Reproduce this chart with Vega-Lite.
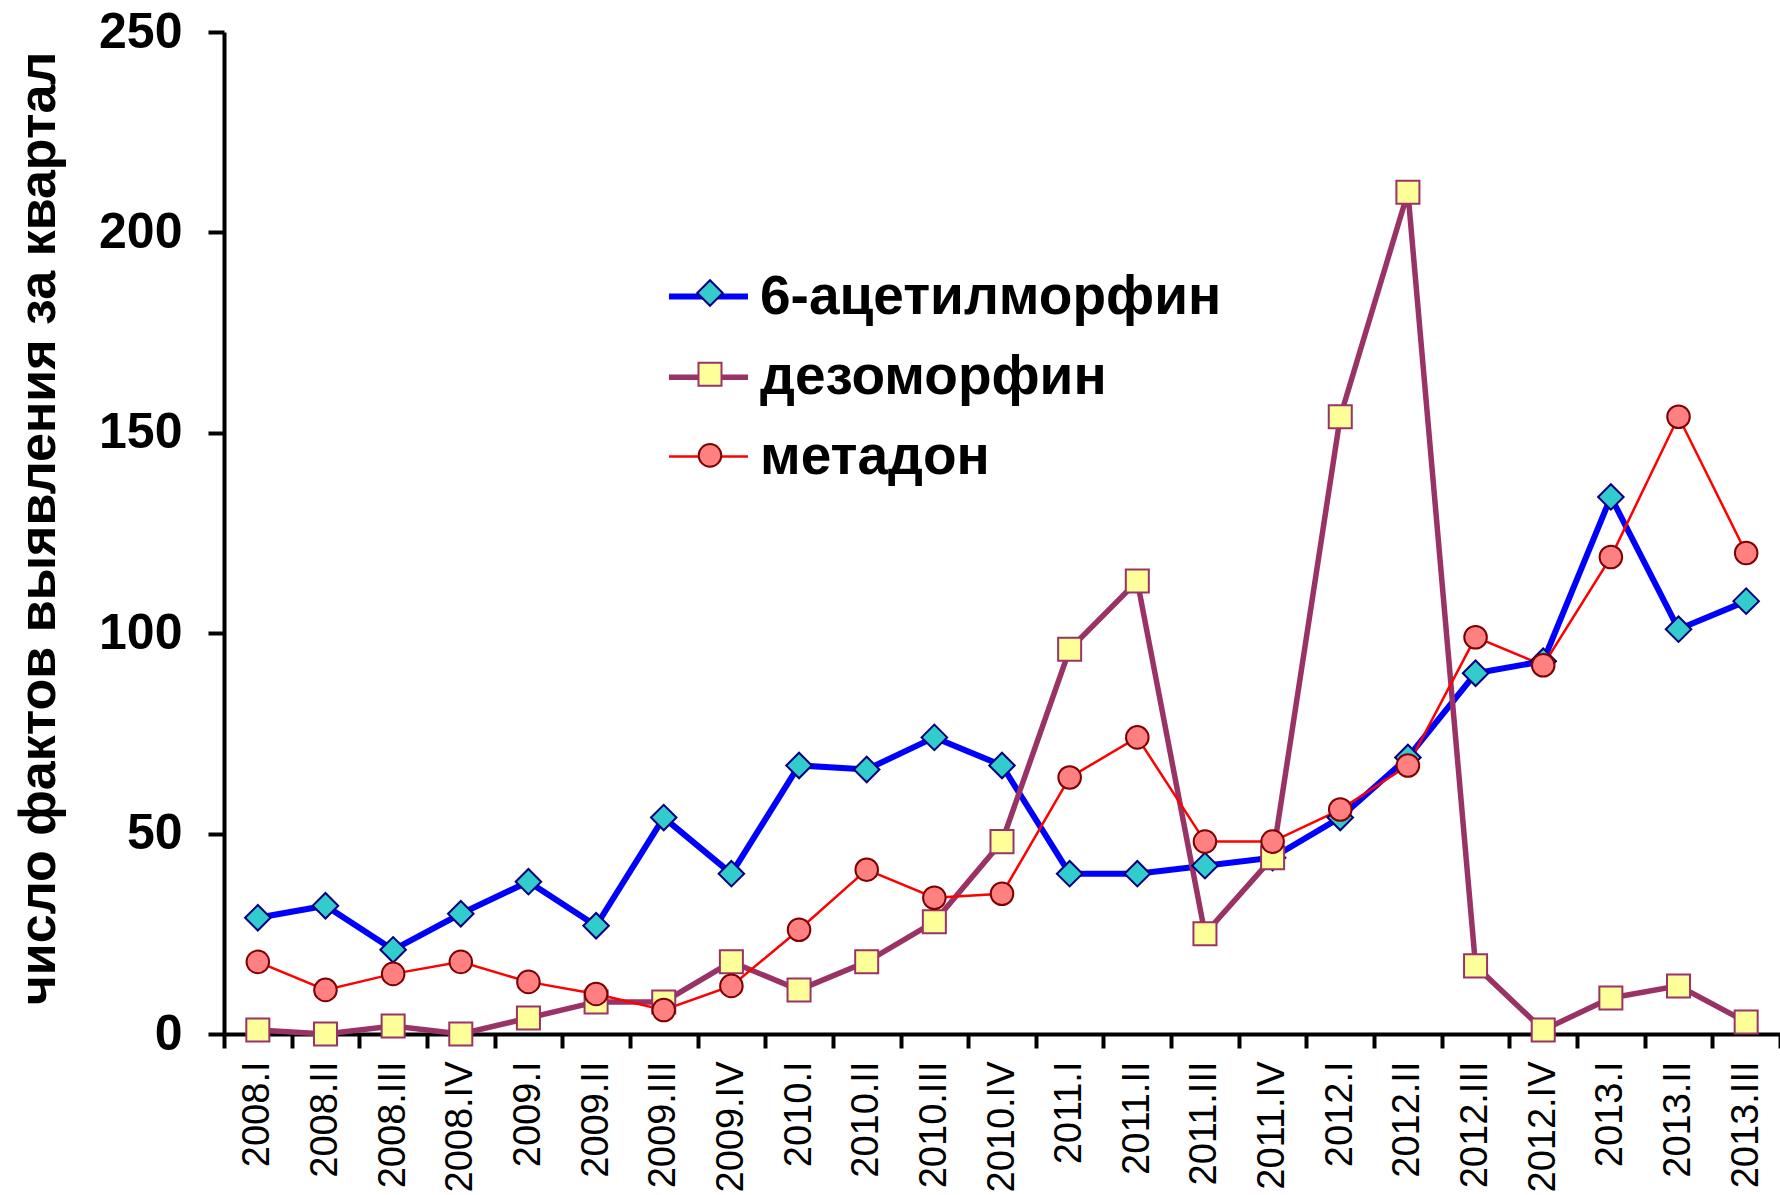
{
  "$schema": "https://vega.github.io/schema/vega-lite/v6.json",
  "width": 1556,
  "height": 1002,
  "autosize": {"type": "none"},
  "padding": {"left": 224, "top": 32, "right": 0, "bottom": 161},
  "background": "white",
  "config": {
    "view": {"stroke": null},
    "font": "Liberation Sans",
    "axis": {"grid": false, "domainColor": "black", "tickColor": "black", "labelColor": "black", "titleColor": "black"}
  },
  "data": {
    "values": [
      {"quarter": "2008.I", "series": "6-ацетилморфин", "count": 29},
      {"quarter": "2008.I", "series": "дезоморфин", "count": 1},
      {"quarter": "2008.I", "series": "метадон", "count": 18},
      {"quarter": "2008.II", "series": "6-ацетилморфин", "count": 32},
      {"quarter": "2008.II", "series": "дезоморфин", "count": 0},
      {"quarter": "2008.II", "series": "метадон", "count": 11},
      {"quarter": "2008.III", "series": "6-ацетилморфин", "count": 21},
      {"quarter": "2008.III", "series": "дезоморфин", "count": 2},
      {"quarter": "2008.III", "series": "метадон", "count": 15},
      {"quarter": "2008.IV", "series": "6-ацетилморфин", "count": 30},
      {"quarter": "2008.IV", "series": "дезоморфин", "count": 0},
      {"quarter": "2008.IV", "series": "метадон", "count": 18},
      {"quarter": "2009.I", "series": "6-ацетилморфин", "count": 38},
      {"quarter": "2009.I", "series": "дезоморфин", "count": 4},
      {"quarter": "2009.I", "series": "метадон", "count": 13},
      {"quarter": "2009.II", "series": "6-ацетилморфин", "count": 27},
      {"quarter": "2009.II", "series": "дезоморфин", "count": 8},
      {"quarter": "2009.II", "series": "метадон", "count": 10},
      {"quarter": "2009.III", "series": "6-ацетилморфин", "count": 54},
      {"quarter": "2009.III", "series": "дезоморфин", "count": 8},
      {"quarter": "2009.III", "series": "метадон", "count": 6},
      {"quarter": "2009.IV", "series": "6-ацетилморфин", "count": 40},
      {"quarter": "2009.IV", "series": "дезоморфин", "count": 18},
      {"quarter": "2009.IV", "series": "метадон", "count": 12},
      {"quarter": "2010.I", "series": "6-ацетилморфин", "count": 67},
      {"quarter": "2010.I", "series": "дезоморфин", "count": 11},
      {"quarter": "2010.I", "series": "метадон", "count": 26},
      {"quarter": "2010.II", "series": "6-ацетилморфин", "count": 66},
      {"quarter": "2010.II", "series": "дезоморфин", "count": 18},
      {"quarter": "2010.II", "series": "метадон", "count": 41},
      {"quarter": "2010.III", "series": "6-ацетилморфин", "count": 74},
      {"quarter": "2010.III", "series": "дезоморфин", "count": 28},
      {"quarter": "2010.III", "series": "метадон", "count": 34},
      {"quarter": "2010.IV", "series": "6-ацетилморфин", "count": 67},
      {"quarter": "2010.IV", "series": "дезоморфин", "count": 48},
      {"quarter": "2010.IV", "series": "метадон", "count": 35},
      {"quarter": "2011.I", "series": "6-ацетилморфин", "count": 40},
      {"quarter": "2011.I", "series": "дезоморфин", "count": 96},
      {"quarter": "2011.I", "series": "метадон", "count": 64},
      {"quarter": "2011.II", "series": "6-ацетилморфин", "count": 40},
      {"quarter": "2011.II", "series": "дезоморфин", "count": 113},
      {"quarter": "2011.II", "series": "метадон", "count": 74},
      {"quarter": "2011.III", "series": "6-ацетилморфин", "count": 42},
      {"quarter": "2011.III", "series": "дезоморфин", "count": 25},
      {"quarter": "2011.III", "series": "метадон", "count": 48},
      {"quarter": "2011.IV", "series": "6-ацетилморфин", "count": 44},
      {"quarter": "2011.IV", "series": "дезоморфин", "count": 44},
      {"quarter": "2011.IV", "series": "метадон", "count": 48},
      {"quarter": "2012.I", "series": "6-ацетилморфин", "count": 54},
      {"quarter": "2012.I", "series": "дезоморфин", "count": 154},
      {"quarter": "2012.I", "series": "метадон", "count": 56},
      {"quarter": "2012.II", "series": "6-ацетилморфин", "count": 69},
      {"quarter": "2012.II", "series": "дезоморфин", "count": 210},
      {"quarter": "2012.II", "series": "метадон", "count": 67},
      {"quarter": "2012.III", "series": "6-ацетилморфин", "count": 90},
      {"quarter": "2012.III", "series": "дезоморфин", "count": 17},
      {"quarter": "2012.III", "series": "метадон", "count": 99},
      {"quarter": "2012.IV", "series": "6-ацетилморфин", "count": 93},
      {"quarter": "2012.IV", "series": "дезоморфин", "count": 1},
      {"quarter": "2012.IV", "series": "метадон", "count": 92},
      {"quarter": "2013.I", "series": "6-ацетилморфин", "count": 134},
      {"quarter": "2013.I", "series": "дезоморфин", "count": 9},
      {"quarter": "2013.I", "series": "метадон", "count": 119},
      {"quarter": "2013.II", "series": "6-ацетилморфин", "count": 101},
      {"quarter": "2013.II", "series": "дезоморфин", "count": 12},
      {"quarter": "2013.II", "series": "метадон", "count": 154},
      {"quarter": "2013.III", "series": "6-ацетилморфин", "count": 108},
      {"quarter": "2013.III", "series": "дезоморфин", "count": 3},
      {"quarter": "2013.III", "series": "метадон", "count": 120}
    ]
  },
  "encoding": {
    "x": {
      "field": "quarter",
      "type": "ordinal",
      "sort": null,
      "bandPosition": 0.5,
      "scale": {"type": "band", "paddingInner": 0, "paddingOuter": 0},
      "axis": {
        "title": null,
        "domainWidth": 4,
        "tickWidth": 4,
        "tickSize": 14,
        "tickBand": "extent",
        "labelAngle": -90,
        "labelFont": "Liberation Sans",
        "labelFontSize": 38,
        "labelPadding": 13,
        "labelOverlap": false
      }
    },
    "y": {
      "field": "count",
      "type": "quantitative",
      "scale": {"domain": [0, 250], "nice": false},
      "axis": {
        "values": [0, 50, 100, 150, 200, 250],
        "domainWidth": 4,
        "tickWidth": 4,
        "tickSize": 16,
        "labelFont": "Liberation Sans",
        "labelFontSize": 50,
        "labelFontWeight": "bold",
        "labelPadding": 26,
        "title": "число фактов выявления за квартал",
        "titleFont": "Liberation Sans",
        "titleFontSize": 52,
        "titleFontWeight": "bold",
        "titleAngle": -90,
        "titleAlign": "center",
        "titleBaseline": "middle",
        "titleX": -186,
        "titleY": 496,
        "titleLimit": 2000
      }
    }
  },
  "layer": [
    {
      "mark": {"type": "line"},
      "encoding": {
        "color": {
          "field": "series",
          "type": "nominal",
          "scale": {"domain": ["6-ацетилморфин", "дезоморфин", "метадон"], "range": ["#0000FF", "#993366", "#FF0000"]},
          "legend": {
            "orient": "none",
            "legendX": 442,
            "legendY": 222,
            "title": null,
            "padding": 0,
            "symbolType": "stroke",
            "symbolSize": 6241,
            "labelFont": "Liberation Sans",
            "labelFontSize": 55,
            "labelFontWeight": "bold",
            "labelColor": "black",
            "labelLimit": 2000,
            "labelOffset": 9,
            "rowPadding": 9.8
          }
        },
        "strokeWidth": {
          "field": "series",
          "type": "nominal",
          "scale": {"type": "ordinal", "domain": ["6-ацетилморфин", "дезоморфин", "метадон"], "range": [6, 5.5, 2.5]},
          "legend": {
            "orient": "none",
            "legendX": 442,
            "legendY": 222,
            "title": null,
            "padding": 0,
            "symbolType": "stroke",
            "symbolSize": 6241,
            "labelFont": "Liberation Sans",
            "labelFontSize": 55,
            "labelFontWeight": "bold",
            "labelColor": "black",
            "labelLimit": 2000,
            "labelOffset": 9,
            "rowPadding": 9.8
          }
        }
      }
    },
    {
      "mark": {"type": "point", "filled": true, "opacity": 1, "strokeWidth": 2},
      "encoding": {
        "fill": {
          "field": "series",
          "type": "nominal",
          "scale": {"range": ["#33CCCC", "#FFFF99", "#FF8080"]},
          "legend": {
            "orient": "none",
            "legendX": 461,
            "legendY": 236,
            "title": null,
            "padding": 0,
            "labelExpr": "' '",
            "labelFont": "Liberation Sans",
            "labelFontSize": 50,
            "labelFontWeight": "bold",
            "rowPadding": 31.2,
            "symbolStrokeWidth": 2,
            "symbolOpacity": 1
          }
        },
        "stroke": {
          "field": "series",
          "type": "nominal",
          "scale": {"range": ["#000080", "#993366", "#800000"]}
        },
        "shape": {
          "field": "series",
          "type": "nominal",
          "scale": {"range": ["diamond", "square", "circle"]}
        },
        "size": {
          "field": "series",
          "type": "nominal",
          "scale": {"type": "ordinal", "range": [650, 530, 510]}
        }
      }
    }
  ]
}
